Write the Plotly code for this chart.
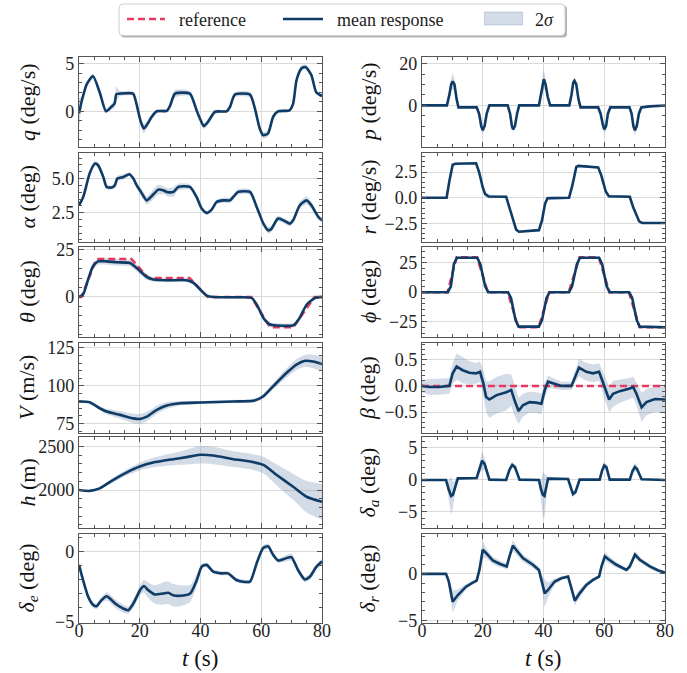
import numpy as np
import plotly.graph_objects as go
from plotly.subplots import make_subplots

# ---------------- data ----------------
# Left column
T_Q = [0, 1.0, 2.5, 4.6, 6.8, 8.9, 10.6, 11.7, 12.3, 13.4,
       17.8, 18.9, 20.2, 21.3, 22.2, 23.9, 25.6, 28.9, 30.0, 31.6,
       36.5, 38.7, 39.8, 41.1, 42.5, 44.8, 48.6, 49.7, 51.3, 56.3,
       57.9, 59.5, 60.6, 62.2, 63.9, 65.5, 69.3, 70.5, 71.6, 73.2,
       74.6, 76.5, 78.1, 80]
M_Q = [-0.2, 1.2, 2.8, 3.7, 2.0, 0.0, 0.45, 0.8, 1.8, 1.85,
       1.85, 0.8, -0.95, -1.8, -1.5, -0.6, 0.0, 0.05, 0.6, 1.85,
       1.85, 0.1, -0.75, -1.55, -1.1, -0.05, 0.0, 0.45, 1.75, 1.75,
       0.3, -1.8, -2.5, -2.35, -0.6, 0.0, 0.1, 0.8, 3.25, 4.5,
       4.65, 3.8, 2.0, 1.6]
SD_Q = [1.6, 0.4, 0.2, 0.2, 0.2, 0.2, 0.3, 0.4, 0.8, 0.3,
        0.2, 0.3, 0.4, 0.5, 0.4, 0.3, 0.2, 0.2, 0.4, 0.4,
        0.25, 0.3, 0.35, 0.3, 0.3, 0.2, 0.15, 0.2, 0.25, 0.3,
        0.3, 0.3, 0.35, 0.35, 0.3, 0.15, 0.15, 0.2, 0.25, 0.3,
        0.25, 0.25, 0.2, 0.2]

T_A = [0, 1.4, 3.5, 5.2, 6.3, 8.0, 9.1, 10.7, 11.8, 12.6,
       14.6, 16.6, 17.9, 19.0, 20.6, 22.3, 23.9, 26.1, 27.7, 28.9,
       31.1, 32.7, 36.5, 38.7, 40.4, 42.0, 43.7, 45.3, 47.5, 49.7,
       50.8, 52.4, 56.3, 58.5, 60.7, 62.3, 63.4, 65.5, 67.2, 69.4,
       70.5, 72.7, 74.9, 76.5, 78.8, 80]
M_A = [3.04, 3.65, 5.37, 6.1, 5.98, 5.12, 4.39, 4.34, 4.5, 5.0,
       5.12, 5.32, 5.0, 4.5, 3.95, 3.4, 3.7, 4.19, 4.14, 4.02,
       4.02, 4.39, 4.39, 3.65, 2.8, 2.48, 2.72, 3.28, 3.4, 3.4,
       3.65, 4.02, 4.02, 2.92, 1.69, 1.2, 1.32, 2.06, 1.94, 1.69,
       1.94, 3.04, 3.4, 3.04, 2.18, 1.94]
SD_A = [0.15, 0.15, 0.15, 0.2, 0.2, 0.15, 0.2, 0.15, 0.15, 0.2,
        0.2, 0.15, 0.15, 0.2, 0.3, 0.3, 0.35, 0.35, 0.3, 0.3,
        0.35, 0.25, 0.2, 0.2, 0.15, 0.15, 0.15, 0.15, 0.2, 0.2,
        0.2, 0.2, 0.2, 0.2, 0.2, 0.25, 0.25, 0.2, 0.2, 0.2,
        0.2, 0.25, 0.3, 0.25, 0.2, 0.15]

T_TH = [0, 1.3, 3.0, 4.6, 6.3, 9.1, 12.4, 16.8, 19.0, 22.3,
        24.5, 28.9, 35.5, 37.7, 39.9, 42.0, 44.2, 50.8, 56.8, 58.5,
        60.7, 62.9, 65.1, 70.6, 72.3, 75.0, 77.8, 80]
M_TH = [0, 1.2, 9.2, 16.2, 18.8, 18.8, 18.3, 17.9, 15.3, 10.6,
        9.2, 8.8, 8.8, 7.4, 3.9, 0.7, 0, -0.2, -0.5, -4,
        -11.1, -14.6, -15.1, -15, -12, -4, -0.5, 0]
SD_TH = [0.3, 0.5, 1.0, 1.5, 1.8, 1.8, 1.8, 1.8, 1.8, 1.5,
         1.2, 1.0, 1.0, 1.0, 1.0, 0.8, 0.6, 0.6, 0.6, 1.0,
         1.2, 1.2, 1.2, 1.2, 1.2, 1.0, 0.8, 0.6]
T_TH_REF = [0, 0.8, 5.7, 17.3, 22.8, 36.4, 42.4, 56.7, 62.9, 70.6, 77.5, 80]
R_TH = [0, 0, 20, 20, 10, 10, 0, 0, -16, -16, 0, 0]

T_V = [0, 3.5, 6.8, 9.1, 13.5, 17.9, 20.1, 22.3, 25.6, 28.9,
       33.3, 39.9, 50.8, 57.3, 60.6, 63.9, 68.3, 71.6, 74.5, 77.1,
       80]
M_V = [89.6, 89.1, 85.1, 82.9, 80.7, 78.4, 78.0, 79.5, 84.0, 86.9,
       88.4, 88.9, 89.6, 90.0, 92.9, 99.6, 108.4, 114.0, 116.5, 116.0,
       114.4]
SD_V = [0.5, 0.8, 1.2, 1.8, 2.5, 3.0, 3.2, 3.2, 2.8, 2.2,
        1.5, 1.0, 1.0, 1.2, 1.5, 2.0, 3.0, 3.5, 4.0, 4.5,
        5.0]

T_H = [0, 3.5, 6.8, 11.2, 15.6, 20.0, 24.4, 31.0, 35.4, 39.8,
       44.2, 50.8, 56.3, 60.7, 65.1, 70.5, 74.9, 80]
M_H = [2000, 1990, 2019, 2115, 2200, 2269, 2315, 2354, 2377, 2404,
       2396, 2354, 2327, 2288, 2173, 2038, 1923, 1865]
SD_H = [5, 8, 15, 25, 35, 45, 55, 70, 85, 100,
        100, 90, 90, 95, 120, 150, 180, 205]

T_DE = [0, 1.3, 3.0, 4.7, 5.8, 7.4, 9.1, 10.2, 11.9, 14.6,
        16.2, 17.9, 20.1, 21.4, 22.8, 25.0, 27.7, 29.4, 31.0, 33.3,
        36.6, 38.8, 40.4, 42.0, 44.2, 46.9, 49.1, 51.8, 54.0, 56.3,
        58.5, 60.6, 62.3, 63.9, 65.5, 67.2, 69.9, 72.1, 74.3, 76.0,
        78.2, 80]
M_DE = [-0.95, -2.0, -3.2, -3.8, -3.88, -3.45, -3.17, -3.33, -3.69, -4.05,
        -4.17, -3.69, -2.74, -2.45, -2.74, -3.05, -2.98, -2.93, -3.1, -3.14,
        -2.98, -2.02, -1.07, -0.95, -1.43, -1.55, -1.55, -2.02, -2.14, -2.14,
        -0.83, 0.24, 0.36, -0.24, -0.64, -0.55, -0.4, -1.31, -1.98, -1.79,
        -1.07, -0.71]
SD_DE = [0.2, 0.2, 0.2, 0.2, 0.2, 0.2, 0.3, 0.3, 0.3, 0.3,
         0.25, 0.3, 0.35, 0.45, 0.55, 0.65, 0.8, 0.8, 0.8, 0.75,
         0.6, 0.4, 0.2, 0.15, 0.15, 0.15, 0.15, 0.15, 0.15, 0.15,
         0.2, 0.2, 0.2, 0.2, 0.15, 0.2, 0.25, 0.2, 0.2, 0.2,
         0.2, 0.2]

# Right column
T_P = [0, 8.2, 9.0, 9.6, 10.1, 10.7, 11.4, 12.0, 18.0, 18.8,
       19.5, 20.0, 20.6, 21.3, 22.2, 28.2, 29.0, 29.6, 30.0, 30.6,
       31.3, 32.0, 38.5, 39.2, 39.8, 40.1, 40.7, 41.4, 42.2, 48.5,
       49.2, 49.8, 50.2, 50.8, 51.5, 52.2, 58.0, 58.8, 59.5, 60.0,
       60.6, 61.2, 62.0, 68.3, 69.0, 69.6, 70.1, 70.7, 71.4, 72.2,
       75.0, 80]
M_P = [0, 0, 5, 10, 11.5, 10, 3, -1, -1, -4,
       -10, -12, -10, -4, 0, 0, -4, -10, -11.5, -10,
       -4, 0, 0, 5, 11, 12.5, 10, 4, 0, 0,
       5, 11, 11.8, 10, 3, -1, -1, -4, -9, -11.5,
       -10, -4, -1, -1, -4, -10, -12, -10, -4, -1,
       -0.5, -0.1]
SD_P = [0.2, 0.3, 1.5, 3.0, 4.0, 2.5, 1.0, 0.4, 0.3, 0.8,
        1.5, 2.0, 1.5, 0.8, 0.3, 0.3, 0.8, 1.2, 1.5, 1.2,
        0.8, 0.3, 0.3, 1.5, 4.0, 5.0, 3.0, 1.0, 0.3, 0.3,
        1.0, 1.5, 1.5, 1.2, 0.6, 0.3, 0.3, 0.8, 2.0, 2.5,
        2.0, 0.8, 0.3, 0.3, 0.8, 2.0, 2.5, 2.0, 0.8, 0.3,
        0.2, 0.2]

T_R = [0, 8.1, 9.0, 10.1, 11.0, 17.8, 18.8, 20.0, 20.8, 22.0,
       27.7, 28.8, 31.0, 31.9, 38.5, 39.5, 40.5, 41.3, 48.4, 49.5,
       50.8, 51.5, 58.0, 59.0, 60.5, 61.5, 68.4, 69.5, 71.5, 72.5,
       80]
M_R = [0, 0, 1.6, 3.2, 3.3, 3.35, 2.5, 1.0, 0.35, 0.12,
       0.1, -1.0, -3.1, -3.3, -3.15, -2.2, -0.6, -0.05, 0, 1.2,
       3.0, 3.1, 2.95, 2.2, 0.6, 0.15, 0.1, -0.9, -2.3, -2.45,
       -2.45]
SD_R = [0.05, 0.05, 0.15, 0.15, 0.1, 0.1, 0.2, 0.3, 0.25, 0.2,
        0.1, 0.1, 0.1, 0.1, 0.1, 0.2, 0.3, 0.2, 0.1, 0.1,
        0.1, 0.1, 0.1, 0.15, 0.2, 0.15, 0.1, 0.1, 0.1, 0.1,
        0.1]

T_PHI = [0, 8.5, 9.5, 10.5, 11.5, 18.2, 19.2, 20.8, 21.8, 28.3,
         29.3, 30.8, 31.8, 38.5, 39.5, 41.0, 42.0, 48.4, 49.4, 51.0,
         52.0, 58.3, 59.3, 60.8, 61.8, 68.2, 69.2, 70.7, 71.7, 80]
M_PHI = [0, 0, 5, 24, 29.5, 29.5, 24, 5, 0, 0,
         -5, -24, -29.5, -29.5, -24, -5, 0, 0, 5, 24,
         29.5, 29.5, 24, 5, 0, 0, -5, -24, -29.5, -30]
SD_PHI = [0.3, 0.3, 1.0, 1.5, 1.0, 1.0, 1.5, 1.5, 0.8, 0.8,
          1.0, 1.5, 1.0, 1.0, 1.5, 1.5, 0.8, 0.8, 1.0, 1.5,
          1.0, 1.0, 1.5, 1.5, 0.8, 0.8, 1.0, 1.5, 1.0, 1.0]
T_PHI_REF = [0, 8.4, 11.4, 18.1, 21.7, 28.2, 31.7, 38.4, 41.9, 48.3,
             51.9, 58.2, 61.7, 68.1, 71.6, 80]
R_PHI = [0, 0, 30, 30, 0, 0, -30, -30, 0, 0,
         30, 30, 0, 0, -30, -30]

T_B = [0, 2.4, 5.7, 9.0, 10.1, 11.4, 13.4, 15.6, 17.8, 19.1,
       20.2, 21.1, 22.2, 24.4, 27.7, 29.4, 30.5, 31.8, 33.2, 35.4,
       37.6, 39.3, 40.4, 41.5, 43.1, 45.9, 49.2, 50.3, 51.7, 54.1,
       56.3, 58.3, 59.6, 61.6, 62.9, 65.1, 68.4, 69.5, 70.6, 72.3,
       73.9, 76.7, 80]
M_B = [0, -0.02, -0.02, 0, 0.24, 0.37, 0.3, 0.25, 0.24, 0.27,
       0.05, -0.21, -0.26, -0.18, -0.12, -0.08, -0.28, -0.48, -0.37, -0.31,
       -0.32, -0.34, -0.08, 0.08, 0.05, 0, 0, 0.17, 0.35, 0.27,
       0.24, 0.27, 0.05, -0.26, -0.15, -0.1, -0.05, -0.02, -0.15, -0.41,
       -0.31, -0.25, -0.26]
SD_B = [0.12, 0.15, 0.15, 0.15, 0.2, 0.25, 0.25, 0.22, 0.2, 0.2,
        0.25, 0.3, 0.35, 0.35, 0.35, 0.3, 0.3, 0.25, 0.22, 0.2,
        0.2, 0.2, 0.15, 0.12, 0.1, 0.08, 0.08, 0.12, 0.17, 0.17,
        0.17, 0.17, 0.2, 0.25, 0.25, 0.22, 0.2, 0.2, 0.22, 0.28,
        0.25, 0.25, 0.25]
T_B_REF = [0, 80]
R_B = [0, 0]

T_DA = [0, 7.9, 8.8, 9.6, 10.2, 10.9, 11.8, 18.0, 19.0, 19.8,
        20.6, 22.2, 27.7, 28.8, 29.7, 30.6, 32.1, 38.5, 39.2, 39.8,
        40.3, 40.9, 41.5, 48.1, 49.0, 49.7, 50.5, 51.9, 58.5, 59.3,
        60.0, 60.7, 61.8, 68.4, 69.3, 70.1, 70.8, 72.3, 80]
M_DA = [0, 0, -1.5, -2.5, -2.3, -1.0, 0.25, 0.3, 2.0, 3.0,
        2.5, 0.05, 0, 1.6, 2.35, 2.0, 0.05, 0, -1.5, -2.3,
        -2.5, -1.2, 0.2, 0.15, -1.3, -2.2, -1.9, 0.05, 0.05, 1.5,
        2.25, 2.0, 0.05, 0.05, 1.4, 2.0, 1.7, 0.1, 0.0]
SD_DA = [0.05, 0.1, 1.5, 3.0, 2.0, 1.0, 0.2, 0.2, 1.0, 1.5,
         1.0, 0.2, 0.05, 0.5, 0.5, 0.4, 0.1, 0.1, 1.5, 3.5,
         3.5, 2.0, 0.3, 0.1, 0.4, 0.5, 0.4, 0.1, 0.05, 0.5,
         0.6, 0.4, 0.1, 0.05, 0.6, 0.7, 0.5, 0.1, 0.05]

T_DR = [0, 7.9, 8.8, 10.1, 11.8, 14.5, 16.7, 18.0, 18.9, 20.0,
        21.1, 23.3, 25.5, 27.9, 28.8, 29.9, 31.0, 33.2, 36.5, 38.5,
        39.3, 40.4, 41.5, 43.7, 45.9, 48.1, 49.2, 50.3, 51.9, 54.1,
        56.3, 58.3, 59.1, 60.2, 61.6, 64.0, 67.3, 68.4, 70.1, 71.7,
        75.0, 77.8, 80]
M_DR = [0, 0, -0.8, -3.0, -2.28, -1.38, -0.94, -0.72, 0.43, 2.6,
        2.25, 1.45, 1.09, 0.8, 1.88, 3.04, 2.6, 1.7, 0.98, 0.43,
        -0.65, -2.1, -1.74, -0.83, -0.47, -0.29, -1.56, -2.9, -2.1, -1.2,
        -0.65, -0.29, 0.8, 1.88, 1.52, 0.98, 0.43, 0.8, 2.07, 1.52,
        0.8, 0.36, 0.14]
SD_DR = [0.05, 0.05, 0.5, 1.2, 0.6, 0.3, 0.2, 0.2, 0.4, 1.0,
         0.5, 0.4, 0.35, 0.3, 0.4, 0.6, 0.5, 0.4, 0.35, 0.3,
         0.6, 1.5, 0.8, 0.3, 0.2, 0.15, 0.4, 0.5, 0.4, 0.3,
         0.2, 0.2, 0.4, 0.5, 0.4, 0.3, 0.2, 0.3, 0.4, 0.3,
         0.25, 0.2, 0.15]

X_TICKS = [0, 20, 40, 60, 80]
LEGEND_LABELS = ["reference", "mean response", "2<i>σ</i>"]

# ---------------- panel setup ----------------
PANELS = [
    (1, 1, T_Q, M_Q, SD_Q, None, None, "<i>q</i> (deg/s)", [-3.75, 5.7], [0, 5], 1, "", "spline"),
    (2, 1, T_A, M_A, SD_A, None, None, "<i>α</i> (deg)", [0.34, 6.88], [2.5, 5.0], 0.5, ".1f", "spline"),
    (3, 1, T_TH, M_TH, SD_TH, T_TH_REF, R_TH, "<i>θ</i> (deg)", [-21.2, 26.4], [0, 25], 5, "", "spline"),
    (4, 1, T_V, M_V, SD_V, None, None, "<i>V</i> (m/s)", [68.7, 128.3], [75, 100, 125], 5, "", "spline"),
    (5, 1, T_H, M_H, SD_H, None, None, "<i>h</i> (m)", [1565, 2608], [2000, 2500], 100, "", "spline"),
    (6, 1, T_DE, M_DE, SD_DE, None, None, "<i>δ<sub>e</sub></i> (deg)", [-5.07, 1.24], [-5, 0], 1, "", "spline"),
    (1, 2, T_P, M_P, SD_P, None, None, "<i>p</i> (deg/s)", [-20, 23.2], [0, 20], 5, "", "linear"),
    (2, 2, T_R, M_R, SD_R, None, None, "<i>r</i> (deg/s)", [-4.3, 4.35], [-2.5, 0, 2.5], 0.5, ".1f", "linear"),
    (3, 2, T_PHI, M_PHI, SD_PHI, T_PHI_REF, R_PHI, "<i>ϕ</i> (deg)", [-38.4, 38.7], [-25, 0, 25], 5, "", "linear"),
    (4, 2, T_B, M_B, SD_B, T_B_REF, R_B, "<i>β</i> (deg)", [-0.9, 0.82], [-0.5, 0, 0.5], 0.1, ".1f", "linear"),
    (5, 2, T_DA, M_DA, SD_DA, None, None, "<i>δ<sub>a</sub></i> (deg)", [-7.5, 6.7], [-5, 0, 5], 1, "", "linear"),
    (6, 2, T_DR, M_DR, SD_DR, None, None, "<i>δ<sub>r</sub></i> (deg)", [-5.3, 4.3], [-5, 0], 1, "", "linear"),
]

W, H = 687, 673
XCOLS = {1: (79, 322), 2: (422, 665)}
YROWS = {1: (57, 147), 2: (153, 242), 3: (247, 337), 4: (343, 433), 5: (437, 528), 6: (534, 623)}


def px(x):
    return x / W


def py(y):
    return 1 - y / H


FONT = "Liberation Serif"
NAVY = "#0e3c66"
RED = "#e8385f"
BAND = "rgba(120,145,182,0.33)"
FRAME = "#555555"
GRID = "#dadada"
DASH = "7px,4px"

fig = make_subplots(rows=6, cols=2)

for (r, c, t, m, sd, rt, rv, title, yr, yt, mdt, fmt, shape) in PANELS:
    t = np.array(t, dtype=float)
    m = np.array(m, dtype=float)
    sd = np.array(sd, dtype=float)
    ls = dict(shape=shape, smoothing=0.6) if shape == "spline" else dict(shape="linear")
    fig.add_trace(go.Scatter(x=t, y=m - sd, mode="lines", line=dict(width=0, **ls),
                             showlegend=False, hoverinfo="skip"), row=r, col=c)
    fig.add_trace(go.Scatter(x=t, y=m + sd, mode="lines", line=dict(width=0, **ls),
                             fill="tonexty", fillcolor=BAND, name="2σ",
                             showlegend=False, hoverinfo="skip"), row=r, col=c)
    if rt is not None:
        fig.add_trace(go.Scatter(x=rt, y=rv, mode="lines",
                                 line=dict(color=RED, width=2.5, dash=DASH),
                                 name="reference", showlegend=False), row=r, col=c)
    fig.add_trace(go.Scatter(x=t, y=m, mode="lines", line=dict(color=NAVY, width=2.6, **ls),
                             name="mean response", showlegend=False), row=r, col=c)

    x0, x1 = XCOLS[c]
    y0, y1 = YROWS[r]
    fig.update_xaxes(domain=[px(x0), px(x1)], range=[0, 80], tickvals=X_TICKS,
                     showticklabels=(r == 6), row=r, col=c)
    fig.update_yaxes(domain=[py(y1), py(y0)], range=yr, tickvals=yt,
                     tickformat=fmt, minor=dict(dtick=mdt, tick0=0, ticks="inside",
                                                ticklen=3, tickcolor=FRAME, showgrid=False),
                     row=r, col=c)
    fig.add_annotation(text=title, x=px(27 if c == 1 else 368), y=py((y0 + y1) / 2),
                       xref="paper", yref="paper", showarrow=False, textangle=-90,
                       xanchor="center", yanchor="middle",
                       font=dict(family=FONT, size=22, color="#111111"))

common_axis = dict(showline=True, linecolor=FRAME, linewidth=1.3, mirror="allticks",
                   ticks="inside", ticklen=5, tickcolor=FRAME, showgrid=True,
                   gridcolor=GRID, gridwidth=1, zeroline=False, automargin=False,
                   tickfont=dict(family=FONT, size=18, color="#222222"))
fig.update_xaxes(**common_axis, ticklabelstandoff=-9,
                 minor=dict(dtick=5, tick0=0, ticks="inside", ticklen=3,
                            tickcolor=FRAME, showgrid=False))
fig.update_yaxes(**common_axis)

for cx in (200, 543):
    fig.add_annotation(text="<i>t</i> (s)", x=px(cx), y=py(658), xref="paper", yref="paper",
                       showarrow=False, xanchor="center", yanchor="middle",
                       font=dict(family=FONT, size=23, color="#111111"))


# ---------------- legend (frame, keys and labels) ----------------
def rounded(x0, y0, x1, y1, rad):
    pts = [
        f"M {px(x0 + rad)},{py(y0)}", f"L {px(x1 - rad)},{py(y0)}",
        f"Q {px(x1)},{py(y0)} {px(x1)},{py(y0 + rad)}", f"L {px(x1)},{py(y1 - rad)}",
        f"Q {px(x1)},{py(y1)} {px(x1 - rad)},{py(y1)}", f"L {px(x0 + rad)},{py(y1)}",
        f"Q {px(x0)},{py(y1)} {px(x0)},{py(y1 - rad)}", f"L {px(x0)},{py(y0 + rad)}",
        f"Q {px(x0)},{py(y0)} {px(x0 + rad)},{py(y0)}", "Z",
    ]
    return " ".join(pts)


fig.add_shape(type="path", path=rounded(120.5, 5.5, 567, 37.5, 4), xref="paper", yref="paper",
              fillcolor="rgba(0,0,0,0.30)", line=dict(width=0), layer="above")
fig.add_shape(type="path", path=rounded(119, 4, 565, 35.5, 4), xref="paper", yref="paper",
              fillcolor="white", line=dict(color="#d0d0d0", width=1), layer="above")
# keys
fig.add_shape(type="line", x0=px(127), x1=px(165), y0=py(19), y1=py(19), xref="paper", yref="paper",
              line=dict(color=RED, width=2.5, dash=DASH), layer="above")
fig.add_shape(type="line", x0=px(283), x1=px(323), y0=py(19), y1=py(19), xref="paper", yref="paper",
              line=dict(color=NAVY, width=2.6), layer="above")
fig.add_shape(type="rect", x0=px(484.5), x1=px(522.5), y0=py(25), y1=py(12), xref="paper", yref="paper",
              fillcolor=BAND, line=dict(color="rgba(120,145,182,0.45)", width=0.8), layer="above")
for lbl, lx in zip(LEGEND_LABELS, (177, 335, 533)):
    fig.add_annotation(text=lbl, x=px(lx), y=py(20), xref="paper", yref="paper",
                       showarrow=False, xanchor="left", yanchor="middle",
                       font=dict(family=FONT, size=18, color="#222222"))

fig.update_layout(
    width=W, height=H, template="none", showlegend=False,
    margin=dict(l=0, r=0, t=0, b=0),
    paper_bgcolor="white", plot_bgcolor="white",
    font=dict(family=FONT, size=16, color="#111111"),
)

fig.write_html("out.html", config={"displayModeBar": False},
               post_script="document.body.style.margin='0px';")
